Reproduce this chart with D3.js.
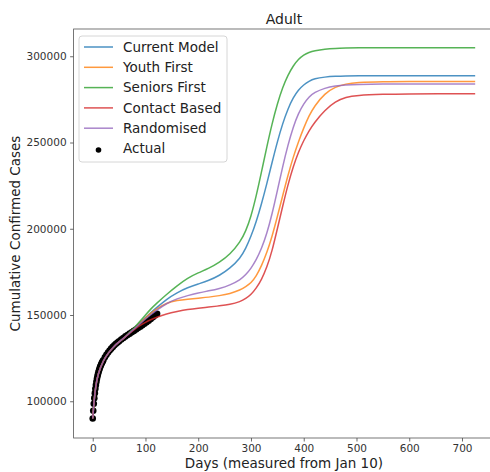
<!DOCTYPE html>
<html>
<head>
<meta charset="utf-8">
<script src="https://cdn.jsdelivr.net/npm/d3@7"></script>
<style>
  body { margin: 0; background: #fff; }
  svg { font-family: "DejaVu Sans", sans-serif; }
</style>
</head>
<body>
<div id="chart"></div>
<script>
// 관측값 (Actual)
const actualDays = [0, 1, 2, 3, 4, 5, 6, 7, 8, 9, 10, 11, 12, 13, 14, 15, 16, 17, 18, 19, 20, 23, 26, 29, 32, 35, 38, 41, 44, 47, 50, 54, 58, 62, 66, 70, 74, 78, 82, 86, 90, 94, 98, 102, 106, 110, 114, 118, 122];
const actualCases = [90000, 94500, 98500, 101800, 104700, 107200, 109400, 111300, 113000, 114500, 115800, 117000, 118000, 119000, 119800, 120600, 121300, 122000, 122600, 123200, 123800, 125500, 127000, 128200, 129400, 130500, 131500, 132400, 133300, 134100, 134800, 135800, 136700, 137600, 138400, 139200, 140000, 140800, 141600, 142400, 143200, 144000, 144900, 145800, 146700, 147700, 148700, 149700, 150700];

// 모델 시나리오
const modelDays = [0, 3, 6, 10, 20, 30, 40, 50, 60, 70, 80, 90, 100, 110, 120, 140, 160, 180, 200, 220, 240, 260, 280, 290, 300, 310, 320, 330, 340, 350, 360, 370, 380, 390, 400, 410, 420, 440, 460, 480, 500, 550, 600, 650, 725];
const early = [90000, 101800, 109400, 115800, 123800, 128200, 131800, 134500, 136800];

const currentModel = early.concat([139800, 142500, 145500, 148500, 151300, 154000, 159200, 163000, 165900, 168000, 170000, 172800, 177000, 183000, 188500, 195500, 204000, 214500, 226000, 238500, 250500, 261000, 269500, 276000, 280500, 283500, 285500, 287000, 288000, 288400, 288600, 288700, 288700, 288700, 288700, 288700]);
const youthFirst = early.concat([139800, 142600, 145500, 148300, 151000, 153300, 157000, 158500, 159200, 159800, 160300, 161200, 162300, 164500, 166500, 168500, 172500, 178500, 186000, 195500, 207000, 219000, 231000, 241500, 250500, 258500, 265500, 271000, 278500, 282300, 284000, 284800, 285300, 285400, 285400, 285400]);
const seniorsFirst = early.concat([140000, 143000, 146500, 150000, 153500, 156500, 162000, 167000, 171500, 174500, 177000, 180500, 185000, 192500, 198500, 207000, 219000, 233000, 247500, 261000, 272500, 282000, 289000, 294500, 298300, 300800, 302300, 303200, 304200, 304600, 304800, 305000, 305000, 305000, 305000, 305000]);
const contactBased = early.concat([139500, 141800, 144000, 145800, 147300, 148600, 150700, 152000, 153200, 154000, 154600, 155300, 156000, 157800, 159500, 161800, 165500, 170500, 177500, 187000, 200000, 213000, 225500, 236000, 244500, 251200, 256800, 261500, 268800, 273800, 276300, 277400, 278000, 278200, 278200, 278200]);
const randomised = early.concat([139700, 142300, 145000, 147700, 150200, 152500, 156800, 159500, 161300, 162800, 164000, 165300, 167300, 170500, 173300, 177000, 182000, 188500, 197000, 208500, 222000, 236000, 248500, 259000, 267000, 272500, 276500, 279000, 281600, 282800, 283400, 283700, 283900, 283900, 283900, 283900]);

const seriesNames = ["Current Model", "Youth First", "Seniors First", "Contact Based", "Randomised"];
const seriesValues = [currentModel, youthFirst, seniorsFirst, contactBased, randomised];
const seriesColors = ["#1f77b4", "#ff7f0e", "#2ca02c", "#d62728", "#9467bd"];

const xTicks = [0, 100, 200, 300, 400, 500, 600, 700];
const yTicks = [100000, 150000, 200000, 250000, 300000];

const width = 490, height = 472;
const plotLeft = 73.6, plotRight = 494.3, plotTop = 29, plotBottom = 438;

const svg = d3.select("#chart").append("svg")
    .attr("width", width)
    .attr("height", height);

const x = d3.scaleLinear().domain([-36.25, 761.25]).range([plotLeft, plotRight]);
const y = d3.scaleLinear().domain([78700, 315800]).range([plotBottom, plotTop]);

// 축
const xAxis = svg.append("g")
    .attr("transform", `translate(0,${plotBottom})`)
    .call(d3.axisBottom(x).tickValues(xTicks).tickFormat(d3.format("d")).tickSize(3.5).tickPadding(3.5));
const yAxis = svg.append("g")
    .attr("transform", `translate(${plotLeft},0)`)
    .call(d3.axisLeft(y).tickValues(yTicks).tickFormat(d3.format("d")).tickSize(3.5).tickPadding(3.5));

[xAxis, yAxis].forEach(g => {
    g.select(".domain").remove();
    g.selectAll(".tick line").attr("stroke", "#444").attr("stroke-width", 0.8);
    g.selectAll(".tick text").attr("fill", "#333").style("font-size", "10.5px").style("font-family", "DejaVu Sans");
});

// 테두리
svg.append("rect")
    .attr("x", plotLeft).attr("y", plotTop)
    .attr("width", plotRight - plotLeft).attr("height", plotBottom - plotTop)
    .attr("fill", "none")
    .attr("stroke", "#555")
    .attr("stroke-width", 0.8);

// 실제 데이터 점
svg.append("g")
    .selectAll("circle")
    .data(actualDays)
    .enter().append("circle")
    .attr("cx", (d, i) => x(d))
    .attr("cy", (d, i) => y(actualCases[i]))
    .attr("r", 3.3)
    .attr("fill", "#000");

// 모델 곡선
const line = d3.line()
    .x((d, i) => x(modelDays[i]))
    .y(d => y(d))
    .curve(d3.curveBasis);

svg.append("g")
    .selectAll("path")
    .data(seriesValues)
    .enter().append("path")
    .attr("d", d => line(d))
    .attr("fill", "none")
    .attr("stroke", (d, i) => seriesColors[i])
    .attr("stroke-opacity", 0.8)
    .attr("stroke-width", 1.5);

// 제목과 축 이름
svg.append("text")
    .attr("x", (plotLeft + plotRight) / 2).attr("y", 24)
    .attr("text-anchor", "middle")
    .style("font-size", "14px")
    .attr("fill", "#222")
    .text("Adult");

svg.append("text")
    .attr("x", (plotLeft + plotRight) / 2).attr("y", 468)
    .attr("text-anchor", "middle")
    .style("font-size", "13.5px")
    .attr("fill", "#222")
    .text("Days (measured from Jan 10)");

svg.append("text")
    .attr("transform", `translate(20,${(plotTop + plotBottom) / 2}) rotate(-90)`)
    .attr("text-anchor", "middle")
    .style("font-size", "13.5px")
    .attr("fill", "#222")
    .text("Cumulative Confirmed Cases");

// 범례
const legend = svg.append("g");
legend.append("rect")
    .attr("x", 79).attr("y", 36)
    .attr("width", 148).attr("height", 126)
    .attr("rx", 3)
    .attr("fill", "#fff")
    .attr("fill-opacity", 0.8)
    .attr("stroke", "#ccc")
    .attr("stroke-width", 0.8);

const legendNames = seriesNames.concat(["Actual"]);
const item = legend.selectAll(".item")
    .data(legendNames)
    .enter().append("g")
    .attr("transform", (d, i) => `translate(0,${47 + i * 20.3})`);

item.filter((d, i) => i < 5).append("line")
    .attr("x1", 84).attr("x2", 113)
    .attr("stroke", (d, i) => seriesColors[i])
    .attr("stroke-opacity", 0.8)
    .attr("stroke-width", 1.5);

item.filter((d, i) => i === 5).append("circle")
    .attr("cx", 98.5).attr("cy", 1.5).attr("r", 2.8)
    .attr("fill", "#000");

item.append("text")
    .attr("x", 123).attr("dy", "0.35em")
    .style("font-size", "13.5px")
    .attr("fill", "#222")
    .text(d => d);
</script>
</body>
</html>
